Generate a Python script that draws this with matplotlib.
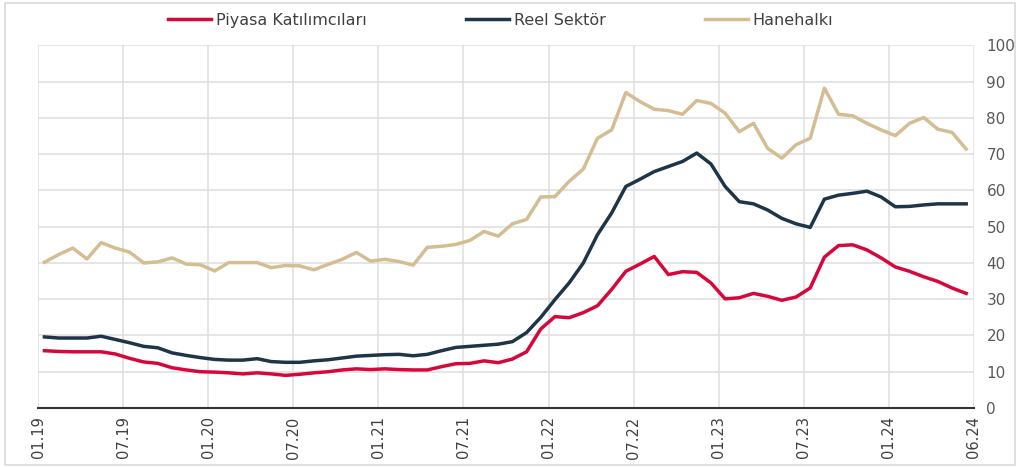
import numpy as np
import matplotlib
matplotlib.use('Agg')
import matplotlib.pyplot as plt
from matplotlib.patches import Rectangle

plt.rcParams['font.family'] = ['Liberation Sans Narrow', 'DejaVu Sans']

# Datos (mensual, 01.19 - 06.24)
piyasa = [15.8, 15.6, 15.5, 15.5, 15.5, 14.9, 13.7, 12.7, 12.3, 11.1,
          10.5, 10.0, 9.9, 9.7, 9.4, 9.7, 9.4, 9.0, 9.3, 9.7,
          10.0, 10.5, 10.8, 10.6, 10.8, 10.6, 10.5, 10.5, 11.4, 12.2,
          12.3, 13.0, 12.5, 13.5, 15.5, 21.8, 25.2, 24.9, 26.3, 28.2,
          32.7, 37.7, 39.7, 41.8, 36.8, 37.6, 37.4, 34.5, 30.1, 30.4,
          31.6, 30.8, 29.7, 30.6, 33.1, 41.6, 44.8, 45.0, 43.6, 41.4,
          38.9, 37.7, 36.2, 34.9, 33.1, 31.6]

reel = [19.6, 19.3, 19.3, 19.3, 19.8, 18.9, 18.0, 17.0, 16.6, 15.2,
        14.5, 13.9, 13.4, 13.2, 13.2, 13.6, 12.8, 12.6, 12.6, 13.0,
        13.3, 13.8, 14.3, 14.5, 14.7, 14.8, 14.4, 14.8, 15.8, 16.7,
        17.0, 17.3, 17.6, 18.3, 20.8, 25.0, 29.9, 34.5, 40.0, 47.8,
        53.8, 61.1, 63.1, 65.2, 66.6, 68.0, 70.3, 67.3, 61.1, 56.9,
        56.3, 54.6, 52.3, 50.8, 49.8, 57.6, 58.7, 59.2, 59.8, 58.2,
        55.5, 55.6, 56.0, 56.3, 56.3, 56.3]

hanehalki = [40.2, 42.3, 44.1, 41.1, 45.6, 44.1, 43.0, 40.0, 40.3, 41.4,
             39.7, 39.5, 37.8, 40.1, 40.1, 40.1, 38.7, 39.3, 39.2, 38.1,
             39.6, 41.0, 42.9, 40.5, 41.0, 40.4, 39.4, 44.3, 44.6, 45.1,
             46.2, 48.7, 47.4, 50.8, 52.0, 58.2, 58.3, 62.5, 65.9, 74.4,
             76.7, 87.0, 84.5, 82.4, 82.0, 81.0, 84.8, 84.0, 81.3, 76.2,
             78.5, 71.6, 68.9, 72.6, 74.4, 88.2, 81.0, 80.6, 78.5, 76.7,
             75.1, 78.5, 80.1, 76.9, 76.0, 71.4]

tick_labels = ['01.19', '07.19', '01.20', '07.20', '01.21', '07.21',
               '01.22', '07.22', '01.23', '07.23', '01.24', '06.24']

x = np.arange(len(piyasa)) + 0.45

fig = plt.figure(figsize=(10.2, 4.68), dpi=100)
ax = fig.add_axes([0.0373, 0.1282, 0.9176, 0.7748])

ax.plot(x, piyasa, color='#d6083b', linewidth=2.5, label='Piyasa Katılımcıları')
ax.plot(x, reel, color='#1e3548', linewidth=2.5, label='Reel Sektör')
ax.plot(x, hanehalki, color='#d5bd93', linewidth=2.5, label='Hanehalkı')

ax.set_xlim(0, 66)
ax.set_ylim(0, 100)
ax.set_xticks(list(range(0, 61, 6)) + [66])
ax.set_xticklabels(tick_labels, rotation=90, fontsize=10.5, color='#404040')
ax.set_yticks(range(0, 101, 10))
ax.yaxis.tick_right()
ax.tick_params(axis='y', labelsize=11, colors='#595959', length=0, pad=9)
ax.tick_params(axis='x', length=0, pad=6)

ax.grid(True, color='#e0e0e0', linewidth=1.2)
ax.set_axisbelow(True)
for s in ['top', 'left', 'right']:
    ax.spines[s].set_visible(False)
ax.spines['bottom'].set_color('#333333')
ax.spines['bottom'].set_linewidth(1.5)

fig.legend(loc='center', bbox_to_anchor=(0.491, 0.957), ncol=3, frameon=False,
           fontsize=11.5, handlelength=2.7, handletextpad=0.3, columnspacing=6.2,
           labelcolor='#404040')

# Marco exterior
fig.patches.append(Rectangle((0.005, 0.006), 0.99, 0.988, transform=fig.transFigure,
                             fill=False, edgecolor='#d9d9d9', linewidth=1.2))

fig.savefig('out.png', dpi=100)
